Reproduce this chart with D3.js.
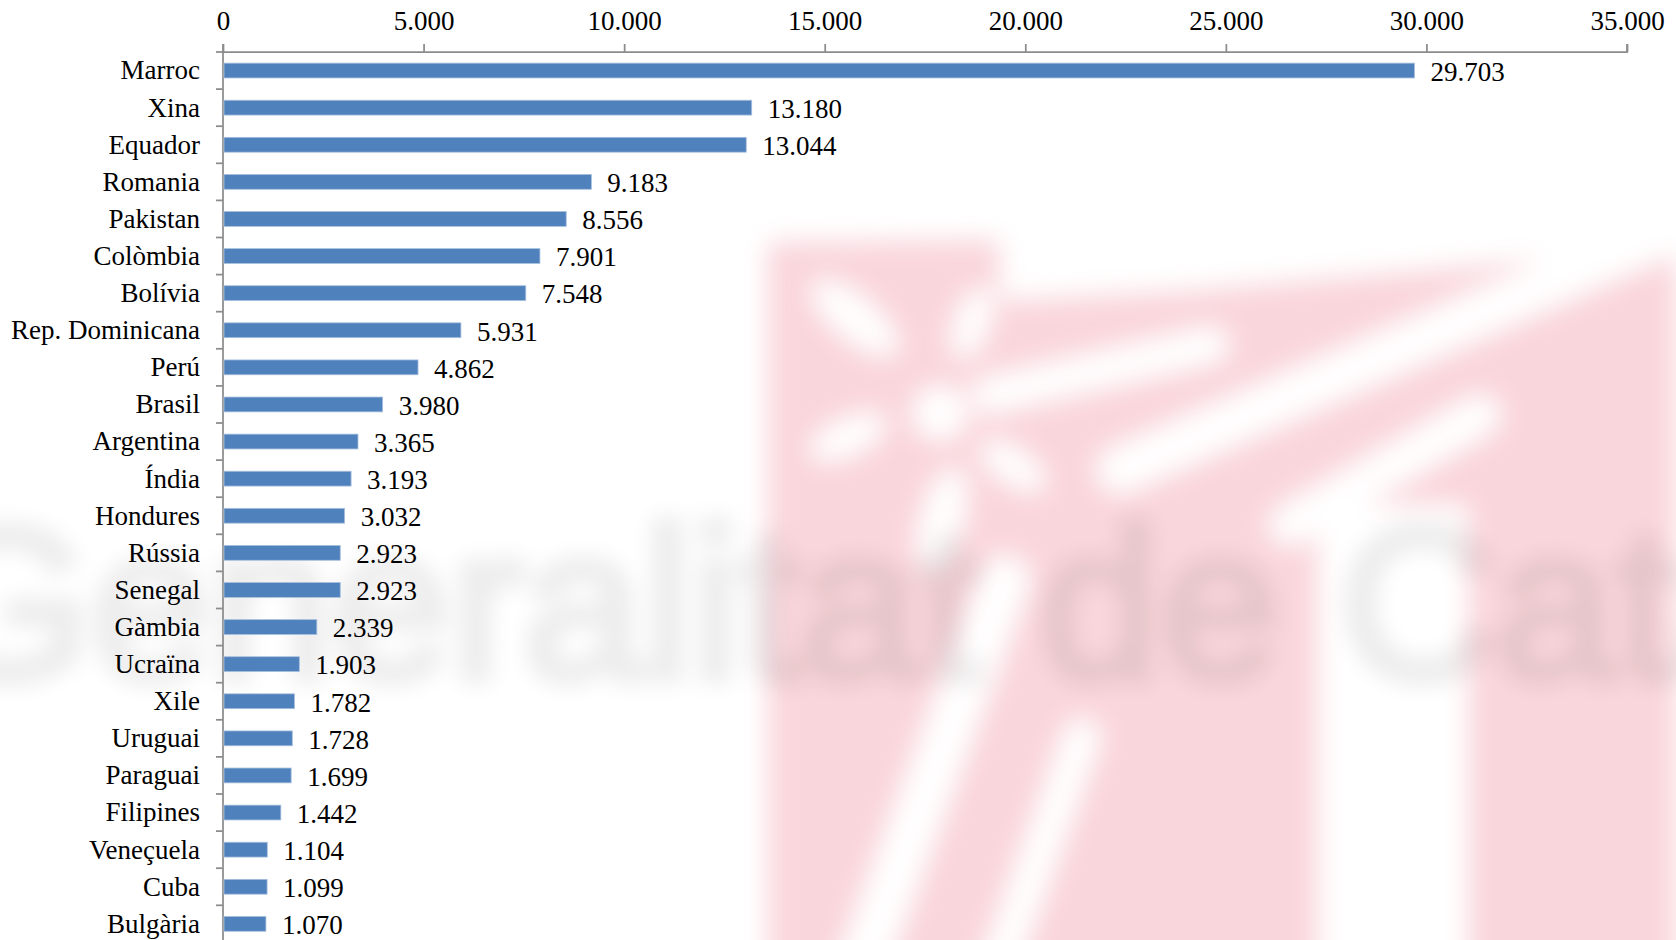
<!DOCTYPE html>
<html>
<head>
<meta charset="utf-8">
<script src="https://cdn.jsdelivr.net/npm/d3@7/dist/d3.min.js"></script>
<style>
body { margin: 0; background: #fff; }
svg { display: block; }
.axis path, .axis line { stroke: #8c8c8c; stroke-width: 1.75; }
.lbl, .axis text { font-family: "Liberation Serif", "Times New Roman", serif; font-size: 27px; fill: #000; }
</style>
</head>
<body>
<svg></svg>
<script>
var countries = ["Marroc", "Xina", "Equador", "Romania", "Pakistan", "Colòmbia", "Bolívia",
	"Rep. Dominicana", "Perú", "Brasil", "Argentina", "Índia", "Hondures", "Rússia", "Senegal",
	"Gàmbia", "Ucraïna", "Xile", "Uruguai", "Paraguai", "Filipines", "Veneçuela", "Cuba", "Bulgària"];
var values = [29703, 13180, 13044, 9183, 8556, 7901, 7548, 5931, 4862, 3980, 3365, 3193, 3032,
	2923, 2923, 2339, 1903, 1782, 1728, 1699, 1442, 1104, 1099, 1070];
var xTicks = [0, 5000, 10000, 15000, 20000, 25000, 30000, 35000];

var svgWidth = 1676, svgHeight = 940;
var plotLeft = 223, plotRight = 1627, plotTop = 52, rowStep = 37.1;

var locale = d3.formatLocale({ decimal: ",", thousands: ".", grouping: [3], currency: ["", "€"] });
var fmt = locale.format(",d");

var svg = d3.select("svg")
	.attr("width", svgWidth)
	.attr("height", svgHeight);

var xScale = d3.scaleLinear()
	.domain([0, 35000])
	.range([plotLeft, plotRight]);

var yScale = d3.scaleBand()
	.domain(countries)
	.range([plotTop, plotTop + rowStep * countries.length])
	.paddingInner(0.6)
	.paddingOuter(0.3);

drawWatermark(svg);
setAxis(svg);
setBars(svg);
setLabels(svg);

// Blurred background logo and text (decoration only)
function drawWatermark(svg) {
	var defs = svg.append("defs");
	defs.append("filter").attr("id", "blur")
		.attr("x", "-20%").attr("y", "-20%").attr("width", "140%").attr("height", "140%")
		.append("feGaussianBlur").attr("stdDeviation", 13);
	defs.append("filter").attr("id", "blurText")
		.attr("x", "-10%").attr("y", "-30%").attr("width", "120%").attr("height", "160%")
		.append("feGaussianBlur").attr("stdDeviation", 11);

	var g = svg.append("g").attr("filter", "url(#blur)");
	g.append("polygon")
		.attr("points", "768,242 1000,240 1250,238 1676,252 1676,990 768,990")
		.attr("fill", "#f9d6db");

	// white cuts in the logo
	var white = "#fff";
	g.append("rect").attr("x", 1318).attr("y", 505).attr("width", 150).attr("height", 500).attr("fill", white);
	g.append("polygon").attr("points", "1000,240 1676,200 1676,248 1480,265 1190,290 1000,300").attr("fill", white);
	var stripes = [
		[1120, 470, 1676, 228, 48],
		[1290, 525, 1480, 415, 42],
		[990, 395, 1210, 345, 38],
		[853, 990, 1005, 580, 50],
		[990, 990, 1082, 737, 38]
	];
	stripes.forEach(function(s) {
		g.append("line")
			.attr("x1", s[0]).attr("y1", s[1]).attr("x2", s[2]).attr("y2", s[3])
			.attr("stroke", white).attr("stroke-width", s[4]).attr("stroke-linecap", "round");
	});
	g.append("circle").attr("cx", 940).attr("cy", 413).attr("r", 28).attr("fill", white);
	var petals = [
		[855, 318, 54, 22, 40],
		[972, 323, 38, 18, -70],
		[848, 437, 42, 19, -25],
		[1013, 466, 38, 18, 35],
		[942, 520, 54, 22, -75]
	];
	petals.forEach(function(p) {
		g.append("ellipse")
			.attr("cx", p[0]).attr("cy", p[1]).attr("rx", p[2]).attr("ry", p[3])
			.attr("transform", "rotate(" + p[4] + "," + p[0] + "," + p[1] + ")")
			.attr("fill", white);
	});

	svg.append("text")
		.attr("x", -77)
		.attr("y", 678)
		.attr("filter", "url(#blurText)")
		.style("font-family", "'Liberation Sans', Arial, sans-serif")
		.style("font-size", "216px")
		.style("fill", "#000")
		.style("stroke", "#000")
		.style("stroke-width", 12)
		.style("opacity", 0.07)
		.text("Generalitat de Catalunya");
}

// This function sets the coordinate axes
function setAxis(svg) {
	var xAxis = d3.axisTop(xScale)
		.tickValues(xTicks)
		.tickSize(8)
		.tickPadding(14)
		.tickFormat(fmt);

	var gx = svg.append("g")
		.attr("class", "axis")
		.attr("transform", "translate(0," + plotTop + ")")
		.call(xAxis);
	gx.select(".domain").attr("d", "M" + plotLeft + ",-8V0H" + plotRight + "V-8");
	gx.selectAll("text").attr("dy", "0em");

	// vertical axis with ticks between the categories
	var yEnd = yScale.range()[1];
	var gy = svg.append("g").attr("class", "axis");
	gy.append("path")
		.attr("d", "M" + plotLeft + "," + plotTop + "V" + yEnd)
		.attr("fill", "none");
	gy.selectAll("line")
		.data(d3.range(countries.length + 1))
		.enter()
		.append("line")
		.attr("x1", plotLeft - 7)
		.attr("x2", plotLeft)
		.attr("y1", function(i) { return plotTop + i * yScale.step(); })
		.attr("y2", function(i) { return plotTop + i * yScale.step(); });
}

// This function sets the bars
function setBars(svg) {
	svg.selectAll("rect.bars")
		.data(values)
		.enter()
		.append("rect")
		.attr("class", "bars")
		.attr("x", xScale(0) + 1)
		.attr("y", function(d, i) { return yScale(countries[i]); })
		.attr("width", function(d) { return xScale(d) - xScale(0) - 1; })
		.attr("height", yScale.bandwidth())
		.attr("fill", "#4f81bd")
		.attr("stroke", "#a9c0dd")
		.attr("stroke-width", 0.8);
}

// Category names and value labels
function setLabels(svg) {
	svg.selectAll("text.cat")
		.data(countries)
		.enter()
		.append("text")
		.attr("class", "lbl cat")
		.attr("x", 200)
		.attr("y", function(d) { return yScale(d) + yScale.bandwidth() / 2; })
		.attr("dy", "0.33em")
		.attr("text-anchor", "end")
		.text(function(d) { return d; });

	svg.selectAll("text.val")
		.data(values)
		.enter()
		.append("text")
		.attr("class", "lbl val")
		.attr("x", function(d) { return xScale(d) + 16; })
		.attr("y", function(d, i) { return yScale(countries[i]) + yScale.bandwidth() / 2; })
		.attr("dy", "0.38em")
		.text(function(d) { return fmt(d); });
}
</script>
</body>
</html>
